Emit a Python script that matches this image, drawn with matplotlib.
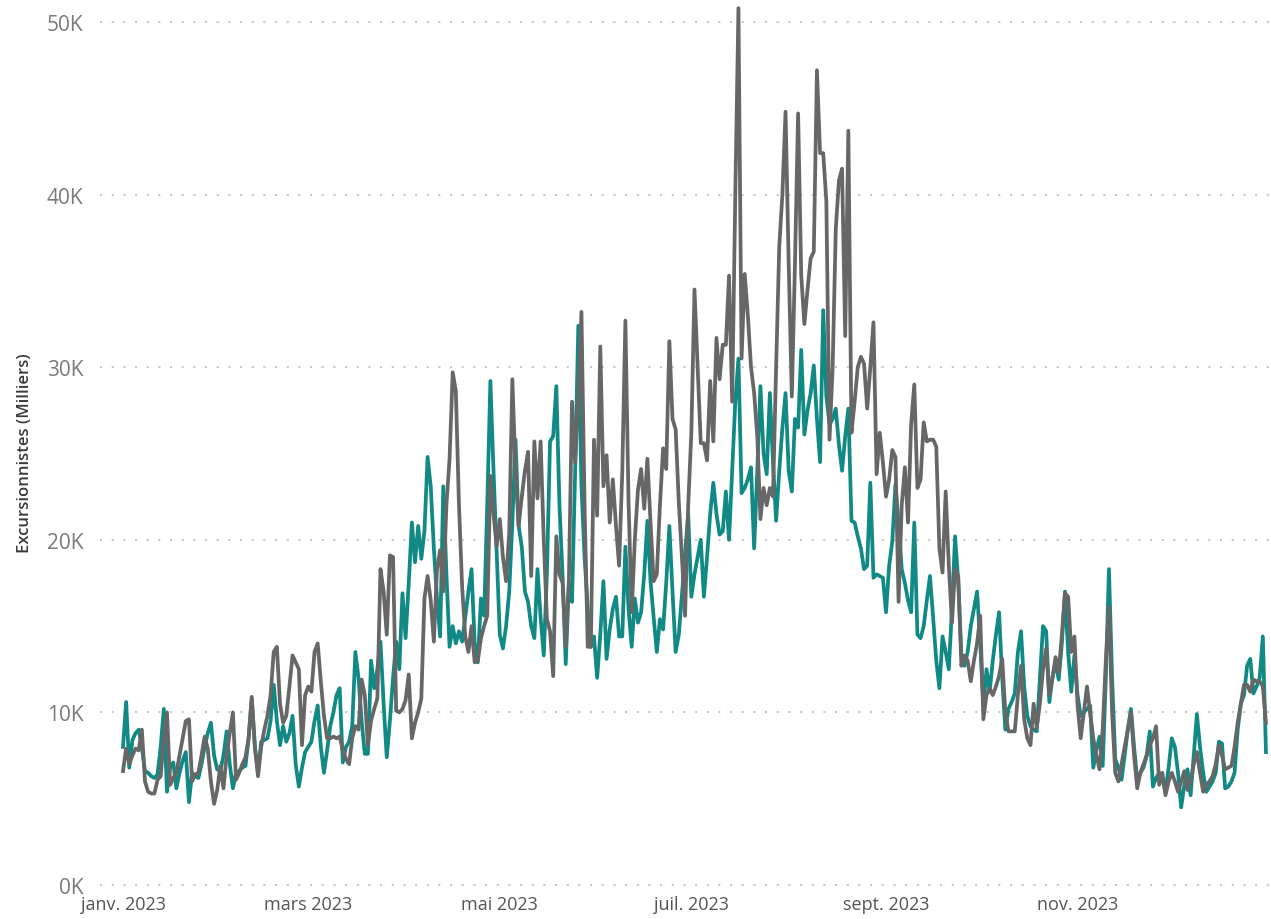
import matplotlib
matplotlib.use("Agg")
import matplotlib.pyplot as plt
import matplotlib.dates as mdates
import numpy as np
import pandas as pd
from matplotlib.ticker import FuncFormatter, FixedLocator

# Daily values in thousands (Milliers), 2023
teal_k = [
    8.0, 10.6, 6.8, 8.4, 8.8, 9.0, 8.0, 6.6, 6.5, 6.3,
    6.2, 6.4, 8.0, 10.2, 5.4, 6.8, 7.1, 5.6, 6.5, 7.2,
    7.7, 4.8, 6.5, 6.3, 6.2, 7.0, 8.0, 8.8, 9.4, 7.5,
    6.7, 6.6, 7.5, 8.9, 7.0, 5.6, 6.5, 6.6, 6.8, 6.9,
    8.5, 10.8, 8.0, 6.5, 8.3, 8.4, 8.5, 9.5, 11.6, 9.5,
    8.1, 9.2, 8.3, 8.8, 9.8, 7.0, 5.7, 6.8, 7.7, 8.0,
    8.3, 9.5, 10.4, 8.0, 6.5, 7.8, 9.2, 10.0, 11.0, 11.4,
    7.1, 8.0, 8.3, 9.2, 13.5, 12.0, 9.5, 7.6, 7.6, 13.0,
    11.4, 12.5, 14.1, 10.5, 7.4, 9.5, 12.0, 14.1, 12.5, 16.9,
    14.3, 17.5, 21.0, 18.7, 20.8, 18.9, 20.5, 24.8, 23.1, 19.5,
    16.6, 14.4, 23.1, 18.0, 13.8, 15.0, 14.0, 14.7, 14.1, 15.5,
    17.0, 18.3, 14.0, 12.9, 16.6, 15.6, 22.0, 29.2, 24.0, 19.3,
    14.5, 13.7, 15.0, 17.0, 21.0, 25.8, 20.8, 19.6, 17.0, 16.4,
    15.0, 14.3, 18.3, 15.5, 13.3, 18.0, 25.7, 26.0, 28.9, 22.0,
    17.9, 12.8, 17.5, 16.4, 24.0, 32.4, 23.1, 19.0, 16.0, 13.8,
    14.4, 12.0, 14.5, 17.6, 13.1, 14.8, 16.0, 16.7, 14.4, 14.4,
    19.6, 16.0, 13.8, 16.6, 15.2, 15.8, 18.0, 21.1, 17.6, 15.5,
    13.5, 15.4, 14.8, 17.5, 20.8, 17.0, 13.5, 14.5, 16.8, 19.2,
    21.5, 16.7, 18.0, 19.0, 20.0, 16.7, 19.0, 21.5, 23.3, 21.5,
    20.3, 20.5, 22.8, 20.0, 24.0, 28.0, 30.5, 22.7, 23.0, 23.5,
    24.2, 19.5, 24.0, 28.9, 25.0, 23.8, 28.5, 24.5, 21.1, 24.0,
    26.5, 28.5, 24.0, 22.8, 27.0, 26.5, 31.0, 26.1, 27.5, 28.5,
    30.1, 27.0, 24.5, 33.3, 28.3, 26.7, 27.0, 27.6, 25.5, 24.0,
    26.0, 27.6, 21.1, 21.0, 20.2, 19.5, 18.3, 18.5, 23.3, 17.8,
    18.0, 17.9, 17.8, 15.8, 18.5, 19.9, 23.2, 21.0, 18.3, 17.5,
    16.5, 15.8, 21.0, 14.5, 14.3, 15.0, 16.5, 17.9, 15.5, 13.0,
    11.4, 14.4, 13.5, 12.5, 16.0, 20.2, 17.6, 13.3, 12.7, 13.5,
    15.0, 16.0, 17.0, 14.0, 10.3, 12.5, 11.2, 13.0, 14.5, 15.8,
    12.0, 9.0, 10.2, 10.6, 11.1, 13.5, 14.7, 11.5, 9.8, 9.2,
    9.0, 8.9, 12.0, 15.0, 14.7, 10.6, 12.0, 12.9, 11.9, 14.0,
    17.0, 13.5, 11.2, 13.3, 11.0, 9.8, 10.0, 10.2, 10.4, 6.8,
    7.8, 8.6, 6.9, 12.0, 18.3, 12.0, 7.3, 6.8, 6.1, 7.5,
    9.0, 10.2, 8.0, 6.1, 6.5, 6.8, 7.5, 8.9, 5.7, 6.2,
    6.5, 6.2, 5.4, 6.8, 8.5, 8.0, 6.5, 4.5, 5.8, 6.7,
    5.2, 7.5, 9.9, 8.0, 6.5, 5.4, 5.7, 6.0, 6.5, 8.3,
    8.2, 5.6, 5.7, 6.0, 6.5, 9.0, 10.5, 11.0, 12.7, 13.1,
    11.1, 11.5, 12.0, 14.4, 7.7,
]

gray_k = [
    6.6, 7.9, 7.0, 7.5, 7.9, 7.8, 9.0, 6.0, 5.4, 5.3,
    5.3, 6.1, 6.3, 8.5, 10.0, 5.8, 6.2, 6.5, 7.5, 8.5,
    9.5, 9.6, 6.0, 6.4, 6.5, 7.5, 8.6, 7.9, 6.0, 4.7,
    5.5, 6.9, 5.6, 7.5, 8.8, 10.0, 6.1, 6.5, 7.0, 7.4,
    8.5, 10.9, 8.0, 6.3, 8.0, 9.0, 9.8, 11.0, 13.5, 13.8,
    10.5, 9.4, 9.8, 11.5, 13.3, 12.9, 12.5, 8.1, 11.0, 11.5,
    11.2, 13.5, 14.0, 11.8, 9.8, 8.5, 8.5, 8.6, 8.5, 8.6,
    7.8, 7.3, 7.0, 8.5, 9.2, 9.0, 11.9, 11.0, 8.1, 9.5,
    10.2, 10.8, 18.3, 17.0, 14.5, 19.1, 19.0, 10.1, 10.0, 10.2,
    10.7, 12.2, 8.5, 9.4, 10.0, 10.8, 16.6, 17.9, 16.5, 14.1,
    18.3, 19.4, 17.0, 22.0, 24.7, 29.7, 28.6, 22.0, 17.3, 14.4,
    13.5, 15.0, 12.9, 13.0, 14.3, 15.0, 15.6, 23.7, 21.5, 19.6,
    21.2, 19.0, 17.6, 20.4, 29.3, 24.0, 20.8, 22.5, 24.0, 25.1,
    17.9, 25.7, 22.4, 25.7, 20.0, 15.4, 14.7, 12.1, 20.2, 18.0,
    17.5, 13.8, 17.6, 28.0, 24.5, 28.0, 33.2, 22.0, 13.8, 13.8,
    25.8, 21.4, 31.2, 23.1, 24.9, 21.0, 23.5, 20.8, 18.5, 23.9,
    32.7, 22.2, 15.8, 20.0, 22.9, 24.1, 21.8, 24.7, 21.0, 17.6,
    18.0, 22.0, 25.3, 24.1, 31.5, 27.0, 26.4, 22.2, 19.0, 15.6,
    22.0, 26.2, 34.5, 30.0, 25.6, 25.6, 24.6, 29.2, 25.7, 31.7,
    29.3, 31.3, 31.3, 35.3, 28.0, 40.0, 50.8, 30.5, 35.4, 33.0,
    30.0, 28.5, 26.0, 21.2, 23.0, 22.0, 23.0, 22.5, 30.0, 37.0,
    40.0, 44.8, 36.0, 28.3, 36.0, 44.7, 35.3, 32.5, 34.5, 36.3,
    36.7, 47.2, 42.4, 42.4, 39.6, 25.8, 30.0, 38.0, 40.8, 41.5,
    31.8, 43.7, 26.2, 28.0, 30.0, 30.6, 30.2, 27.6, 30.0, 32.6,
    23.8, 26.2, 24.5, 22.5, 23.5, 25.2, 24.8, 16.4, 22.0, 24.2,
    21.0, 26.7, 29.0, 23.0, 23.5, 26.8, 25.7, 25.8, 25.8, 25.4,
    19.5, 18.1, 22.8, 18.5, 15.2, 18.3, 17.9, 12.7, 13.3, 13.0,
    11.8, 13.0, 14.0, 15.6, 9.6, 11.0, 11.4, 11.0, 11.5, 12.1,
    13.1, 10.0, 8.9, 8.9, 8.9, 11.0, 12.7, 9.6, 8.5, 8.1,
    10.5, 9.1, 10.5, 12.5, 13.7, 11.0, 12.0, 13.2, 12.3, 14.5,
    16.9, 16.7, 13.5, 14.4, 10.4, 8.5, 10.0, 11.5, 10.0, 8.5,
    7.5, 6.7, 9.0, 13.0, 16.1, 10.0, 6.5, 6.0, 7.0, 8.0,
    9.0, 10.0, 7.5, 5.6, 6.5, 7.0, 7.5, 8.1, 8.5, 9.2,
    5.8, 6.5, 5.2, 6.0, 6.5, 6.0, 5.4, 6.0, 6.6, 5.5,
    6.0, 7.0, 7.7, 6.5, 5.4, 5.8, 6.0, 6.3, 7.0, 8.1,
    7.5, 6.7, 6.8, 6.9, 8.0, 9.4, 10.5, 11.6, 11.6, 11.2,
    11.9, 11.8, 11.8, 11.5, 9.4,
]

x_tick_dates = ["2023-01-01", "2023-03-01", "2023-05-01", "2023-07-01", "2023-09-01", "2023-11-01"]
x_tick_labels = ["janv. 2023", "mars 2023", "mai 2023", "juil. 2023", "sept. 2023", "nov. 2023"]
y_ticks = [0, 10000, 20000, 30000, 40000, 50000]
y_title = "Excursionnistes (Milliers)"

teal = np.array(teal_k) * 1000
gray = np.array(gray_k) * 1000
dates_teal = pd.date_range("2023-01-01", periods=len(teal), freq="D")
dates_gray = pd.date_range("2023-01-01", periods=len(gray), freq="D")

W, H = 1271, 920
fig = plt.figure(figsize=(W / 100, H / 100), dpi=100)
ax_left, ax_right = 100, 1271
ax_top, ax_bottom = 5.7, 886
ax = fig.add_axes([ax_left / W, 1 - ax_bottom / H, (ax_right - ax_left) / W, (ax_bottom - ax_top) / H])

ax.plot(dates_teal, teal, color="#118A86", lw=2.7, solid_joinstyle="round", zorder=3)
ax.plot(dates_gray, gray, color="#676767", lw=2.7, solid_joinstyle="round", zorder=4)

start = pd.Timestamp("2023-01-01")
px_per_day = 3.14
ax.set_xlim(start - pd.Timedelta(days=(123 - ax_left) / px_per_day),
            start + pd.Timedelta(days=(ax_right - 123) / px_per_day))
ax.set_ylim(0, 51000)

ax.xaxis.set_major_locator(FixedLocator([mdates.date2num(pd.Timestamp(d)) for d in x_tick_dates]))
ax.set_xticklabels(x_tick_labels)
ax.set_yticks(y_ticks)
ax.yaxis.set_major_formatter(FuncFormatter(lambda v, p: f"{v/1000:.0f}K"))

for s in ax.spines.values():
    s.set_visible(False)
ax.tick_params(axis="both", length=0)
ax.tick_params(axis="y", pad=12, labelsize=15, labelcolor="#7A7A7A")
ax.tick_params(axis="x", pad=7, labelsize=13, labelcolor="#555555")
for lbl in ax.get_yticklabels() + ax.get_xticklabels():
    lbl.set_family("Open Sans")

ax.grid(axis="y", color="#C8C8C8", lw=1.5, linestyle=(0, (1, 4.6)))
ax.grid(axis="x", visible=False)
for gl in ax.get_ygridlines():
    gl.set_clip_on(False)
ax.set_axisbelow(True)

fig.text(25 / W, 1 - 453 / H, y_title, rotation=90, ha="center", va="center",
         fontsize=12, color="#3A3A3A", family="Open Sans", fontweight="semibold")

fig.savefig("out.png", dpi=100, facecolor="white")
